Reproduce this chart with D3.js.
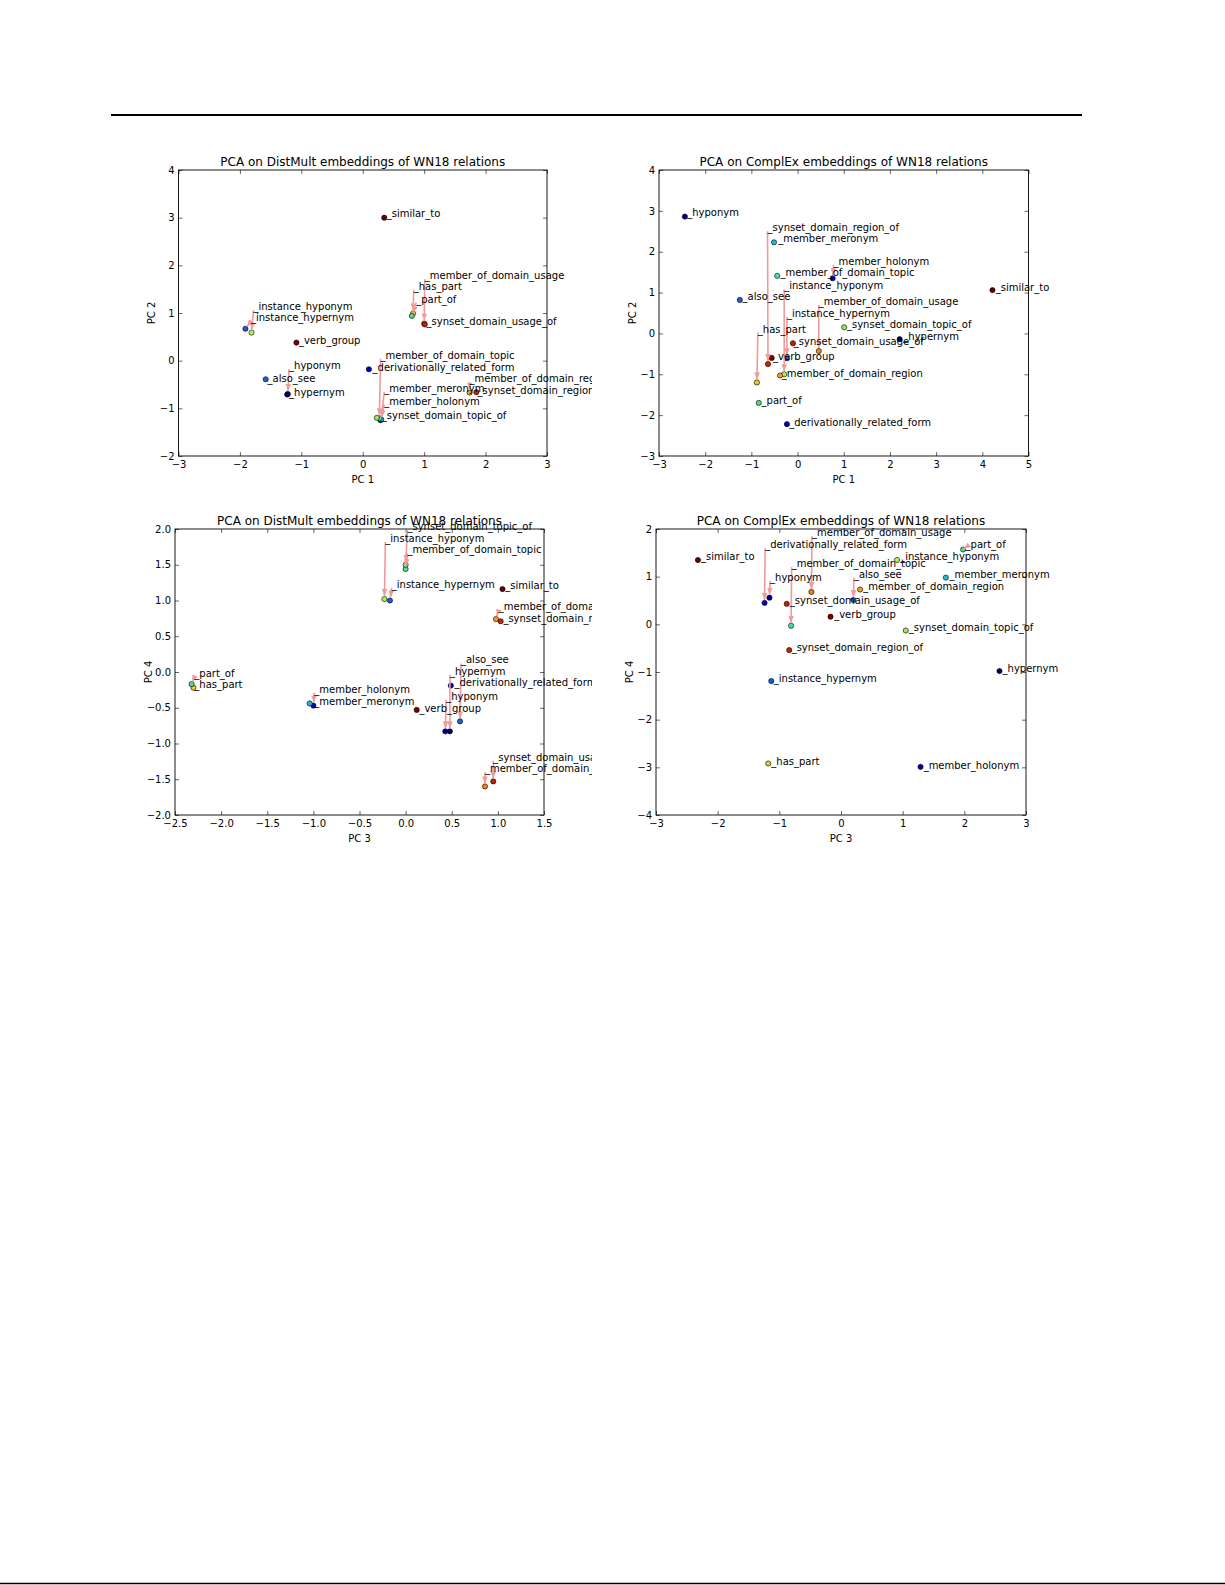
<!DOCTYPE html>
<html><head><meta charset="utf-8">
<script src="https://cdn.jsdelivr.net/npm/d3@7"></script>
<style>
body{margin:0;background:#fff}
svg{display:block}
text{font-family:"DejaVu Sans",sans-serif;fill:#000}
</style>
</head><body>
<svg id="chart" width="1225" height="1585"></svg>
<script>
// ---------- data ----------
const relations = ["also_see","derivationally_related_form","has_part","hypernym","hyponym",
  "instance_hypernym","instance_hyponym","member_holonym","member_meronym","member_of_domain_region",
  "member_of_domain_topic","member_of_domain_usage","part_of","similar_to","synset_domain_region_of",
  "synset_domain_topic_of","synset_domain_usage_of","verb_group"];
const relationColors = ["#1f5fd0","#0000c8","#e6cc28","#000060","#00008f",
  "#1a5ad8","#b4f050","#0000b0","#20b8d8","#f0a020",
  "#40e0b0","#f08020","#50d890","#6a0000","#d02000",
  "#a0e060","#c02000","#800000"];

const titles = ["PCA on DistMult embeddings of WN18 relations","PCA on ComplEx embeddings of WN18 relations",
  "PCA on DistMult embeddings of WN18 relations","PCA on ComplEx embeddings of WN18 relations"];
const axisNames = [["PC 1","PC 2"],["PC 1","PC 2"],["PC 3","PC 4"],["PC 3","PC 4"]];

// Panel 1: DistMult PC1 / PC2
const dmPC1 = [-1.58,0.10,0.82,-1.23,-1.22,-1.91,-1.81,0.29,0.30,1.74,0.27,1.00,0.80,0.35,1.85,0.23,1.01,-1.08];
const dmPC2 = [-0.39,-0.18,0.99,-0.71,-0.70,0.67,0.59,-1.25,-1.23,-0.67,-1.21,0.78,0.94,3.00,-0.66,-1.20,0.76,0.38];
const dm12LabelX = [-1.55,0.16,0.83,-1.20,-1.20,-1.82,-1.78,0.35,0.35,1.74,0.29,1.01,0.87,0.39,1.87,0.31,1.04,-1.04];
const dm12LabelY = [-0.44,-0.21,1.48,-0.74,-0.18,0.83,1.06,-0.92,-0.66,-0.45,0.04,1.71,1.22,3.01,-0.69,-1.22,0.74,0.36];
const dm12Arrow  = [0,0,1,0,1,1,1,1,1,1,1,1,1,0,0,0,0,0];

// Panel 2: ComplEx PC1 / PC2
const cxPC1 = [-1.25,-0.23,-0.88,2.21,-2.44,-0.23,-0.29,0.76,-0.51,-0.38,-0.44,0.46,-0.84,4.22,-0.64,1.01,-0.10,-0.56];
const cxPC2 = [0.82,-2.22,-1.20,-0.14,2.86,-0.61,-1.00,1.35,2.23,-1.03,1.41,-0.43,-1.70,1.06,-0.75,0.15,-0.24,-0.60];
const cx12LabelX = [-1.19,-0.18,-0.86,2.29,-2.39,-0.23,-0.29,0.78,-0.42,-0.34,-0.37,0.46,-0.78,4.29,-0.65,1.07,-0.08,-0.53];
const cx12LabelY = [0.83,-2.26,0.02,-0.15,2.87,0.40,1.08,1.68,2.23,-1.07,1.40,0.70,-1.73,1.05,2.50,0.14,-0.28,-0.64];
const cx12Arrow  = [0,0,1,0,0,1,1,1,0,0,0,1,0,0,1,0,0,0];

// Panel 3: DistMult PC3 / PC4
const dmPC3 = [0.59,0.49,-2.30,0.48,0.43,-0.17,-0.23,-1.00,-1.04,0.98,0.00,0.86,-2.32,1.05,1.03,0.00,0.95,0.12];
const dmPC4 = [-0.69,-0.19,-0.22,-0.83,-0.83,1.00,1.02,-0.47,-0.44,0.74,1.44,-1.60,-0.17,1.16,0.71,1.50,-1.53,-0.53];
const dm34LabelX = [0.60,0.53,-2.29,0.48,0.44,-0.15,-0.22,-0.99,-0.99,1.01,0.02,0.86,-2.29,1.08,1.06,0.02,0.95,0.15];
const dm34LabelY = [0.12,-0.20,-0.23,-0.04,-0.39,1.18,1.82,-0.29,-0.46,0.87,1.66,-1.40,-0.07,1.16,0.70,1.99,-1.24,-0.56];
const dm34Arrow  = [1,0,0,1,1,1,1,1,0,1,1,1,1,0,0,1,1,0];

// Panel 4: ComplEx PC3 / PC4
const cxPC3 = [0.20,-1.24,-1.18,2.57,-1.16,-1.13,0.91,1.29,1.70,0.31,-0.81,-0.48,1.98,-2.32,-0.84,1.05,-0.88,-0.17];
const cxPC4 = [0.51,0.45,-2.92,-0.98,0.56,-1.19,1.35,-2.99,0.98,0.73,-0.03,0.68,1.57,1.35,-0.54,-0.13,0.43,0.16];
const cx34LabelX = [0.21,-1.23,-1.13,2.62,-1.15,-1.09,0.96,1.34,1.76,0.36,-0.80,-0.47,2.02,-2.27,-0.80,1.10,-0.83,-0.11];
const cx34LabelY = [0.98,1.60,-2.96,-1.00,0.91,-1.22,1.36,-3.03,0.98,0.72,1.20,1.85,1.61,1.36,-0.55,-0.14,0.42,0.14];
const cx34Arrow  = [1,1,0,0,1,0,0,0,0,0,1,1,1,0,0,0,0,0];

const xTicks = [[-3,-2,-1,0,1,2,3],[-3,-2,-1,0,1,2,3,4,5],[-2.5,-2,-1.5,-1,-0.5,0,0.5,1,1.5],[-3,-2,-1,0,1,2,3]];
const yTicks = [[-2,-1,0,1,2,3,4],[-3,-2,-1,0,1,2,3,4],[-2,-1.5,-1,-0.5,0,0.5,1,1.5,2],[-4,-3,-2,-1,0,1,2]];
const tickFormats = ["d","d",".1f","d"];

// ---------- layout ----------
const panelData = [
  {x:dmPC1,y:dmPC2,lx:dm12LabelX,ly:dm12LabelY,arrow:dm12Arrow},
  {x:cxPC1,y:cxPC2,lx:cx12LabelX,ly:cx12LabelY,arrow:cx12Arrow},
  {x:dmPC3,y:dmPC4,lx:dm34LabelX,ly:dm34LabelY,arrow:dm34Arrow},
  {x:cxPC3,y:cxPC4,lx:cx34LabelX,ly:cx34LabelY,arrow:cx34Arrow}
];
const boxes = [
  {left:178.5, top:170, w:368.5, h:286, clipRight:592},
  {left:659, top:170, w:369.5, h:286, clipRight:1225},
  {left:175, top:529, w:369, h:286, clipRight:592},
  {left:656, top:529, w:370, h:286, clipRight:1225}
];

const svg = d3.select("#chart");
svg.append("rect").attr("width",1225).attr("height",1585).attr("fill","#fff");

// page rule lines
svg.append("line").attr("x1",111).attr("x2",1082).attr("y1",115).attr("y2",115)
  .attr("stroke","#000").attr("stroke-width",2);
svg.append("line").attr("x1",0).attr("x2",1225).attr("y1",1583.5).attr("y2",1583.5)
  .attr("stroke","#000").attr("stroke-width",1.5);

const defs = svg.append("defs");
defs.append("marker").attr("id","arrowHead").attr("viewBox","0 0 10 8")
  .attr("refX",10).attr("refY",4).attr("markerWidth",7).attr("markerHeight",5.6)
  .attr("markerUnits","userSpaceOnUse").attr("orient","auto")
  .append("path").attr("d","M0,0 L10,4 L0,8 Z").attr("fill","#f29a9a");

panelData.forEach((pd, k) => {
  const b = boxes[k];
  const xd = d3.extent(xTicks[k]), yd = d3.extent(yTicks[k]);
  const xs = d3.scaleLinear().domain(xd).range([b.left, b.left + b.w]);
  const ys = d3.scaleLinear().domain(yd).range([b.top + b.h, b.top]);
  const fmt = d3.format(tickFormats[k]);
  const g = svg.append("g");

  defs.append("clipPath").attr("id","clip"+k).append("rect")
    .attr("x",0).attr("y",0).attr("width",b.clipRight).attr("height",1585);

  // axes
  const axB = d3.axisBottom(xs).tickValues(xTicks[k]).tickFormat(fmt).tickSizeInner(-4).tickSizeOuter(0).tickPadding(5);
  const axT = d3.axisTop(xs).tickValues(xTicks[k]).tickFormat("").tickSizeInner(-4).tickSizeOuter(0);
  const axL = d3.axisLeft(ys).tickValues(yTicks[k]).tickFormat(fmt).tickSizeInner(-4).tickSizeOuter(0).tickPadding(4);
  const axR = d3.axisRight(ys).tickValues(yTicks[k]).tickFormat("").tickSizeInner(-4).tickSizeOuter(0);
  [[axB,`translate(0,${b.top+b.h})`],[axT,`translate(0,${b.top})`],[axL,`translate(${b.left},0)`],[axR,`translate(${b.left+b.w},0)`]]
    .forEach(([ax,tr]) => {
      const a = g.append("g").attr("transform",tr).call(ax);
      a.select(".domain").remove();
      a.selectAll("line").attr("stroke","#000").attr("stroke-width",0.6);
      a.selectAll("text").style("font-family","'DejaVu Sans',sans-serif").style("font-size","10px").attr("fill","#000");
    });
  g.append("rect").attr("x",b.left).attr("y",b.top).attr("width",b.w).attr("height",b.h)
    .attr("fill","none").attr("stroke","#000").attr("stroke-width",0.9);

  // titles and axis names
  g.append("text").attr("x",b.left+b.w/2).attr("y",b.top-4.5).attr("text-anchor","middle")
    .style("font-size","12px").text(titles[k]);
  g.append("text").attr("x",b.left+b.w/2).attr("y",b.top+b.h+27).attr("text-anchor","middle")
    .style("font-size","10px").text(axisNames[k][0]);
  g.append("text").attr("transform",`translate(${b.left-23.5},${b.top+b.h/2}) rotate(-90)`)
    .attr("text-anchor","middle").style("font-size","10px").text(axisNames[k][1]);

  const idx = d3.range(relations.length);
  // points
  g.append("g").selectAll("circle").data(idx).join("circle")
    .attr("cx",i=>xs(pd.x[i])).attr("cy",i=>ys(pd.y[i])).attr("r",2.6)
    .attr("fill",i=>relationColors[i]).attr("stroke","#000").attr("stroke-width",0.6);

  // arrows from displaced labels
  g.append("g").selectAll("line").data(idx.filter(i=>pd.arrow[i])).join("line")
    .each(function(i){
      const x1 = xs(pd.lx[i]), y1 = ys(pd.ly[i]);
      const x2 = xs(pd.x[i]), y2 = ys(pd.y[i]);
      const dx = x2-x1, dy = y2-y1, L = Math.hypot(dx,dy)||1;
      const s = Math.min(3, L*0.3);
      d3.select(this).attr("x1",x1).attr("y1",y1).attr("x2",x2-dx/L*s).attr("y2",y2-dy/L*s);
    })
    .attr("stroke","#f29a9a").attr("stroke-width",1.6).attr("marker-end","url(#arrowHead)");

  // labels
  g.append("g").attr("clip-path",`url(#clip${k})`).selectAll("text").data(idx).join("text")
    .attr("x",i=>xs(pd.lx[i])).attr("y",i=>ys(pd.ly[i]))
    .style("font-size","10px").text(i=>"_"+relations[i]);
});
</script>
</body></html>
